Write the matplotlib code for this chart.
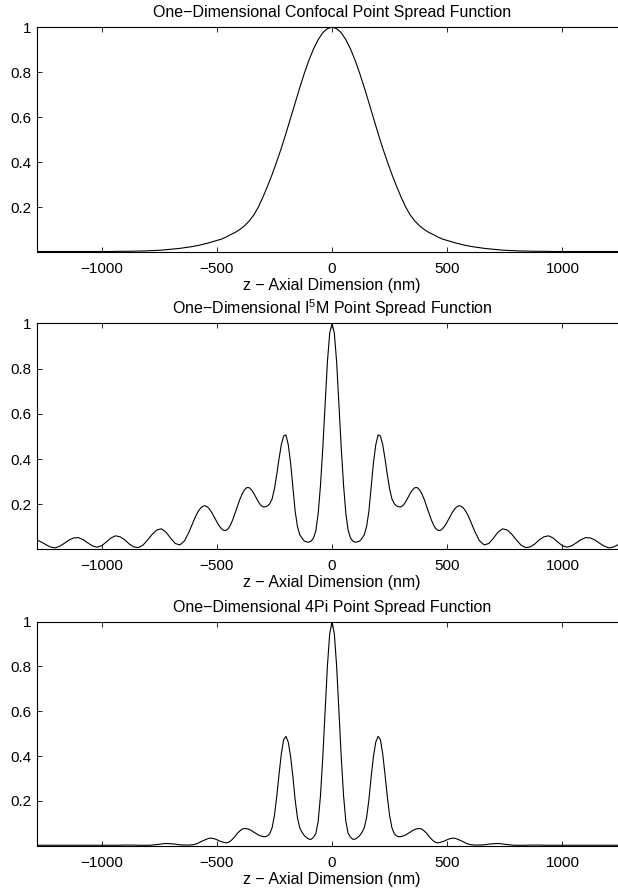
from matplotlib import pyplot

pyplot.rcParams['font.family'] = ['Liberation Sans', 'DejaVu Sans']
pyplot.rcParams['font.size'] = 11

# axial positions (nm) for the confocal curve
z_conf = [-1280, -1260, -1240, -1220, -1200, -1180, -1160, -1140, -1120, -1100,
          -1080, -1060, -1040, -1020, -1000, -980, -960, -940, -920, -900,
          -880, -860, -840, -820, -800, -780, -760, -740, -720, -700,
          -680, -660, -640, -620, -600, -580, -560, -540, -520, -500,
          -480, -460, -440, -420, -400, -380, -360, -340, -320, -300,
          -280, -260, -240, -220, -200, -180, -160, -140, -120, -100,
          -80, -60, -40, -20,
          0,
          20, 40, 60, 80, 100, 120, 140, 160, 180,
          200, 220, 240, 260, 280, 300, 320, 340, 360, 380,
          400, 420, 440, 460, 480, 500, 520, 540, 560, 580,
          600, 620, 640, 660, 680, 700, 720, 740, 760, 780,
          800, 820, 840, 860, 880, 900, 920, 940, 960, 980,
          1000, 1020, 1040, 1060, 1080, 1100, 1120, 1140, 1160, 1180,
          1200, 1220, 1240, 1260, 1280]

confocal = [0.003, 0.003, 0.003, 0.003, 0.003, 0.003, 0.003, 0.003, 0.003, 0.003,
            0.003, 0.003, 0.003, 0.003, 0.003, 0.003, 0.003, 0.0035, 0.004, 0.004,
            0.004, 0.0045, 0.005, 0.0055, 0.006, 0.007, 0.008, 0.009, 0.011, 0.013,
            0.015, 0.017, 0.020, 0.023, 0.026, 0.030, 0.035, 0.040, 0.046, 0.052,
            0.058, 0.067, 0.078, 0.088, 0.101, 0.117, 0.138, 0.164, 0.200, 0.244,
            0.293, 0.345, 0.402, 0.462, 0.527, 0.595, 0.664, 0.731, 0.795, 0.853,
            0.903, 0.944, 0.975, 0.993,
            1.000,
            0.993, 0.975, 0.944, 0.903, 0.853, 0.795, 0.731, 0.664, 0.595,
            0.527, 0.462, 0.402, 0.345, 0.293, 0.244, 0.200, 0.164, 0.138, 0.117,
            0.101, 0.088, 0.078, 0.067, 0.058, 0.052, 0.046, 0.040, 0.035, 0.030,
            0.026, 0.023, 0.020, 0.017, 0.015, 0.013, 0.011, 0.009, 0.008, 0.007,
            0.006, 0.0055, 0.005, 0.0045, 0.004, 0.004, 0.004, 0.0035, 0.003, 0.003,
            0.003, 0.003, 0.003, 0.003, 0.003, 0.003, 0.003, 0.003, 0.003, 0.003,
            0.003, 0.003, 0.003, 0.003, 0.003]

# axial positions (nm) for the I5M and 4Pi curves
z_psf = [-1280, -1260, -1240, -1220, -1200, -1180, -1160, -1140, -1120, -1100,
         -1080, -1060, -1040, -1020, -1000, -980, -960, -940, -920, -900,
         -880, -860, -840, -820, -800, -780, -760, -740, -720, -700,
         -680, -660, -640, -620,
         -600, -590, -580, -570, -560, -550, -540, -530, -520, -510,
         -500, -490, -480, -470, -460, -450, -440, -430, -420, -410,
         -400, -390, -380, -370, -360, -350, -340, -330, -320, -310,
         -300, -290, -280, -270, -260, -250, -240, -230, -220, -210,
         -200, -190, -180, -170, -160, -150, -140, -130, -120, -110,
         -100, -90, -80, -70, -60, -50, -40, -30, -20, -10,
         0, 10, 20, 30, 40, 50, 60, 70, 80, 90,
         100, 110, 120, 130, 140, 150, 160, 170, 180, 190,
         200, 210, 220, 230, 240, 250, 260, 270, 280, 290,
         300, 310, 320, 330, 340, 350, 360, 370, 380, 390,
         400, 410, 420, 430, 440, 450, 460, 470, 480, 490,
         500, 510, 520, 530, 540, 550, 560, 570, 580, 590,
         600, 620, 640, 660, 680,
         700, 720, 740, 760, 780, 800, 820, 840, 860, 880,
         900, 920, 940, 960, 980, 1000, 1020, 1040, 1060, 1080,
         1100, 1120, 1140, 1160, 1180, 1200, 1220, 1240, 1260, 1280]

i5m = [0.042, 0.033, 0.021, 0.011, 0.008, 0.016, 0.029, 0.043, 0.052, 0.053,
       0.044, 0.030, 0.017, 0.011, 0.017, 0.033, 0.051, 0.061, 0.057, 0.044,
       0.025, 0.012, 0.009, 0.020, 0.043, 0.068, 0.087, 0.092, 0.077, 0.050,
       0.027, 0.021, 0.039, 0.079,
       0.128, 0.151, 0.170, 0.184, 0.192, 0.194, 0.188, 0.177, 0.161, 0.142,
       0.123, 0.106, 0.093, 0.085, 0.085, 0.093, 0.110, 0.134, 0.163, 0.193,
       0.222, 0.246, 0.264, 0.274, 0.274, 0.265, 0.250, 0.231, 0.212, 0.197,
       0.189, 0.189, 0.193, 0.203, 0.224, 0.268, 0.331, 0.401, 0.464, 0.502,
       0.507, 0.464, 0.386, 0.280, 0.170, 0.102, 0.066, 0.050, 0.038, 0.034,
       0.033, 0.038, 0.052, 0.085, 0.160, 0.285, 0.450, 0.640, 0.830, 0.957,
       1.000, 0.957, 0.830, 0.640, 0.450, 0.285, 0.160, 0.085, 0.052, 0.038,
       0.033, 0.034, 0.038, 0.050, 0.066, 0.102, 0.170, 0.280, 0.386, 0.464,
       0.507, 0.502, 0.464, 0.401, 0.331, 0.268, 0.224, 0.203, 0.193, 0.189,
       0.189, 0.197, 0.212, 0.231, 0.250, 0.265, 0.274, 0.274, 0.264, 0.246,
       0.222, 0.193, 0.163, 0.134, 0.110, 0.093, 0.085, 0.085, 0.093, 0.106,
       0.123, 0.142, 0.161, 0.177, 0.188, 0.194, 0.192, 0.184, 0.170, 0.151,
       0.128, 0.079, 0.039, 0.021, 0.027,
       0.050, 0.077, 0.092, 0.087, 0.068, 0.043, 0.020, 0.009, 0.012, 0.025,
       0.044, 0.057, 0.061, 0.051, 0.033, 0.017, 0.011, 0.017, 0.030, 0.044,
       0.053, 0.052, 0.043, 0.029, 0.016, 0.008, 0.011, 0.021, 0.033, 0.042]

fourpi = [0.002, 0.002, 0.002, 0.002, 0.002, 0.002, 0.002, 0.002, 0.002, 0.002,
          0.002, 0.002, 0.002, 0.002, 0.002, 0.002, 0.002, 0.002, 0.002, 0.003,
          0.003, 0.003, 0.002, 0.002, 0.002, 0.003, 0.005, 0.008, 0.010, 0.009,
          0.007, 0.004, 0.003, 0.003,
          0.005, 0.008, 0.012, 0.017, 0.022, 0.027, 0.031, 0.034, 0.033, 0.031,
          0.027, 0.022, 0.018, 0.015, 0.013, 0.015, 0.021, 0.031, 0.043, 0.056,
          0.066, 0.074, 0.077, 0.076, 0.073, 0.068, 0.061, 0.055, 0.048, 0.044,
          0.041, 0.040, 0.044, 0.054, 0.080, 0.134, 0.218, 0.317, 0.410, 0.473,
          0.488, 0.463, 0.400, 0.310, 0.205, 0.125, 0.080, 0.060, 0.045, 0.036,
          0.029, 0.029, 0.038, 0.055, 0.109, 0.224, 0.397, 0.603, 0.802, 0.947,
          1.000, 0.947, 0.802, 0.603, 0.397, 0.224, 0.109, 0.055, 0.038, 0.029,
          0.029, 0.036, 0.045, 0.060, 0.080, 0.125, 0.205, 0.310, 0.400, 0.463,
          0.488, 0.473, 0.410, 0.317, 0.218, 0.134, 0.080, 0.054, 0.044, 0.040,
          0.041, 0.044, 0.048, 0.055, 0.061, 0.068, 0.073, 0.076, 0.077, 0.074,
          0.066, 0.056, 0.043, 0.031, 0.021, 0.015, 0.013, 0.015, 0.018, 0.022,
          0.027, 0.031, 0.033, 0.034, 0.031, 0.027, 0.022, 0.017, 0.012, 0.008,
          0.005, 0.003, 0.003, 0.004, 0.007,
          0.009, 0.010, 0.008, 0.005, 0.003, 0.002, 0.002, 0.002, 0.003, 0.003,
          0.003, 0.002, 0.002, 0.002, 0.002, 0.002, 0.002, 0.002, 0.002, 0.002,
          0.002, 0.002, 0.002, 0.002, 0.002, 0.002, 0.002, 0.002, 0.002, 0.002]

xticks = [-1000, -500, 0, 500, 1000]
yticks = [0.2, 0.4, 0.6, 0.8, 1]
yticklabels = ['0.2', '0.4', '0.6', '0.8', '1']
xlabel = 'z \u2212 Axial Dimension (nm)'

fig = pyplot.figure(figsize=(6.18, 8.90), dpi=100)


def psfPlot(rect, z, values, title, ymin):
    ax = fig.add_axes(rect)
    ax.plot(z, values, color='black', linewidth=0.8)
    ax.set_xlim(-1280, 1280)
    ax.set_ylim(ymin, 1)
    ax.set_xticks(xticks)
    ax.set_yticks(yticks)
    ax.set_yticklabels(yticklabels)
    ax.tick_params(direction='in', top=True, right=True, length=3.6, width=0.6)
    ax.tick_params(axis='x', pad=7.5)
    ax.tick_params(axis='y', pad=3.8)
    for s in ax.spines.values():
        s.set_linewidth(0.8)
    ax.set_title(title, fontsize=11.5, pad=7)
    ax.set_xlabel(xlabel, fontsize=11.5, labelpad=1.5)
    return ax


psfPlot([0.0599, 0.7174, 0.9547, 0.2522], z_conf, confocal,
        'One\u2212Dimensional Confocal Point Spread Function', 0.003)
psfPlot([0.0599, 0.3837, 0.9547, 0.2530], z_psf, i5m,
        'One\u2212Dimensional I$^\\mathregular{5}$M Point Spread Function', 0.005)
psfPlot([0.0599, 0.0500, 0.9547, 0.2515], z_psf, fourpi,
        'One\u2212Dimensional 4Pi Point Spread Function', 0.001)

pyplot.savefig('out.png', dpi=100)
